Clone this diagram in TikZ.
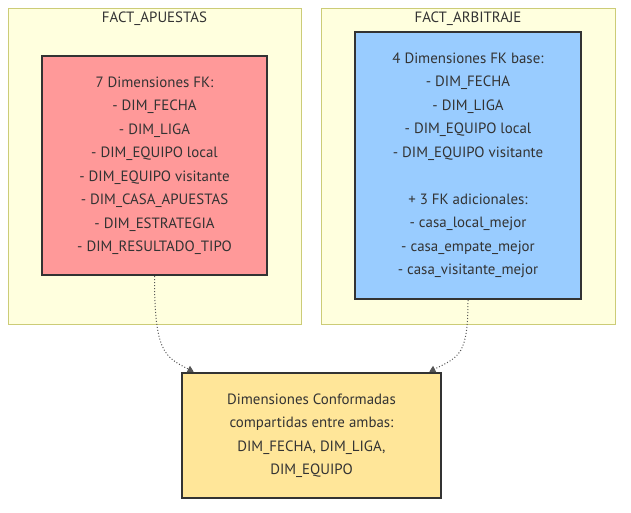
\documentclass[tikz,border=0pt]{standalone}
\usepackage{fontspec}
\setmainfont{PT Sans}
\usepackage{tikz}
\usetikzlibrary{arrows.meta,positioning,calc}
\definecolor{Ink}{HTML}{333333}
\definecolor{Cluster}{HTML}{FFFFDE}
\definecolor{ClusterLine}{HTML}{CCCC77}
\definecolor{Rose}{HTML}{FF9999}
\definecolor{Sky}{HTML}{99CCFF}
\definecolor{Butter}{HTML}{FFE699}
\definecolor{Link}{HTML}{555555}
\tikzset{
  every node/.style={font=\fontsize{14.9}{23.5}\selectfont,text=Ink},
  clusterbox/.style={draw=ClusterLine,fill=Cluster,line width=1pt,minimum width=293pt,minimum height=316pt,inner sep=0pt},
  factbox/.style={draw=Ink,line width=2pt,align=center,inner sep=0pt},
  confbox/.style={draw=Ink,fill=Butter,line width=2.6pt,align=center,inner sep=0pt,minimum width=259pt,minimum height=125pt},
  link/.style={-{Triangle[length=6pt,width=7pt]},dotted,line width=1pt,draw=Link}
}
\begin{document}
\begin{tikzpicture}[x=1pt,y=-1pt]
  \useasboundingbox (0,0) rectangle (631,512);
  \node[clusterbox] (apuestas) at (154.5,166) {};
  \node[clusterbox,minimum width=294pt] (arbitraje) at (468,166) {};
  \node (tapuestas) at (154.5,19) {FACT\_APUESTAS};
  \node (tarbitraje) at (468,19) {FACT\_ARBITRAJE};
  \node[factbox,fill=Rose,minimum width=225pt,minimum height=219pt] (dimap) at (154.5,165.5) {7 Dimensiones FK:\\- DIM\_FECHA\\- DIM\_LIGA\\- DIM\_EQUIPO local\\- DIM\_EQUIPO visitante\\- DIM\_CASA\_APUESTAS\\- DIM\_ESTRATEGIA\\- DIM\_RESULTADO\_TIPO};
  \node[factbox,fill=Sky,minimum width=226pt,minimum height=267pt] (dimarb) at (468,165.5) {4 Dimensiones FK base:\\- DIM\_FECHA\\- DIM\_LIGA\\- DIM\_EQUIPO local\\- DIM\_EQUIPO visitante\\[23.5pt]+ 3 FK adicionales:\\- casa\_local\_mejor\\- casa\_empate\_mejor\\- casa\_visitante\_mejor};
  \node[confbox] (conf) at (311.5,435.5) {Dimensiones Conformadas\\compartidas entre ambas:\\DIM\_FECHA, DIM\_LIGA,\\DIM\_EQUIPO};
  \coordinate (inap) at ($(conf.north west)+(13,0)$);
  \coordinate (inarb) at ($(conf.north east)+(-13,0)$);
  \draw[link] (dimap.south) .. controls +(0,75) and +(-30,-15) .. (inap);
  \draw[link] (dimarb.south) .. controls +(0,55) and +(30,-15) .. (inarb);
\end{tikzpicture}
\end{document}
